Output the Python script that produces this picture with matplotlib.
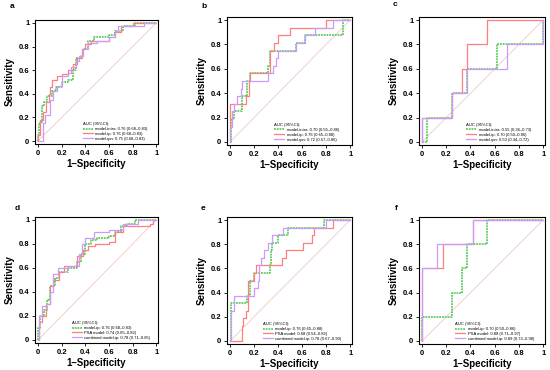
import matplotlib
matplotlib.use("Agg")
import matplotlib.pyplot as plt

plt.rcParams["font.family"] = ["Liberation Sans", "DejaVu Sans"]

# ---------------- data (ROC step vertices: fpr where rise happens, tpr after rise) ---------------
# panel a
a_intra_fpr = [0, 0.0, 0.01, 0.03, 0.05, 0.08, 0.12, 0.15, 0.2, 0.25, 0.3, 0.32, 0.36, 0.38, 0.42, 0.47, 0.6, 0.65, 0.72, 0.82, 1.0]
a_intra_tpr = [0, 0.05, 0.15, 0.3, 0.33, 0.38, 0.42, 0.46, 0.5, 0.52, 0.6, 0.7, 0.72, 0.78, 0.85, 0.88, 0.9, 0.93, 0.97, 1.0, 1.0]
a_ip_fpr = [0, 0.0, 0.02, 0.04, 0.07, 0.09, 0.1, 0.12, 0.16, 0.2, 0.25, 0.3, 0.33, 0.37, 0.4, 0.45, 0.6, 0.65, 0.7, 0.8, 1.0]
a_ip_tpr = [0, 0.05, 0.18, 0.25, 0.33, 0.4, 0.46, 0.52, 0.55, 0.57, 0.6, 0.65, 0.7, 0.78, 0.82, 0.85, 0.88, 0.92, 0.97, 1.0, 1.0]
a_ipn_fpr = [0, 0.03, 0.04, 0.06, 0.1, 0.13, 0.16, 0.2, 0.25, 0.28, 0.32, 0.35, 0.38, 0.42, 0.5, 0.6, 0.65, 0.68, 0.9, 1.0]
a_ipn_tpr = [0, 0.0, 0.15, 0.22, 0.35, 0.42, 0.47, 0.55, 0.58, 0.63, 0.68, 0.72, 0.78, 0.83, 0.85, 0.88, 0.93, 0.97, 1.0, 1.0]
# panel b
b_intra_fpr = [0, 0.01, 0.03, 0.1, 0.14, 0.17, 0.32, 0.33, 0.55, 0.62, 0.94, 1.0]
b_intra_tpr = [0, 0.1875, 0.25, 0.375, 0.5, 0.5625, 0.625, 0.75, 0.8125, 0.875, 1.0, 1.0]
b_ip_fpr = [0, 0.0, 0.13, 0.16, 0.17, 0.33, 0.37, 0.4, 0.5, 0.8, 1.0]
b_ip_tpr = [0, 0.3125, 0.375, 0.5, 0.5625, 0.75, 0.8125, 0.875, 0.9375, 1.0, 1.0]
b_ipn_fpr = [0, 0.0, 0.02, 0.03, 0.06, 0.09, 0.1, 0.32, 0.36, 0.38, 0.4, 0.55, 0.62, 0.71, 0.86, 1.0]
b_ipn_tpr = [0, 0.125, 0.25, 0.3125, 0.375, 0.4375, 0.5, 0.5625, 0.625, 0.6875, 0.75, 0.8125, 0.875, 0.9375, 1.0, 1.0]
# panel c
c_intra_fpr = [0, 0.04, 0.25, 0.37, 0.62, 1.0]
c_intra_tpr = [0, 0.2, 0.4, 0.6, 0.8, 1.0]
c_ip_fpr = [0, 0.0, 0.25, 0.33, 0.375, 0.54, 1.0]
c_ip_tpr = [0, 0.2, 0.4, 0.6, 0.8, 1.0, 1.0]
c_ipn_fpr = [0, 0.0, 0.25, 0.37, 0.7, 1.0]
c_ipn_tpr = [0, 0.2, 0.4, 0.6, 0.8, 1.0]
# panel d
d_ip_fpr = [0, 0.0, 0.02, 0.05, 0.08, 0.1, 0.14, 0.18, 0.25, 0.33, 0.36, 0.4, 0.45, 0.5, 0.6, 0.65, 0.7, 0.75, 0.82, 1.0]
d_ip_tpr = [0, 0.1, 0.2, 0.25, 0.33, 0.45, 0.52, 0.57, 0.6, 0.65, 0.72, 0.8, 0.83, 0.85, 0.87, 0.9, 0.95, 0.97, 1.0, 1.0]
d_psa_fpr = [0, 0.01, 0.03, 0.07, 0.1, 0.13, 0.18, 0.22, 0.33, 0.38, 0.42, 0.48, 0.6, 0.65, 0.72, 0.95, 0.97, 1.0]
d_psa_tpr = [0, 0.15, 0.2, 0.3, 0.45, 0.5, 0.57, 0.62, 0.7, 0.75, 0.78, 0.8, 0.82, 0.9, 0.95, 0.97, 1.0, 1.0]
d_comb_fpr = [0, 0.01, 0.03, 0.07, 0.1, 0.13, 0.17, 0.25, 0.35, 0.37, 0.4, 0.47, 0.6, 0.72, 0.85, 1.0]
d_comb_tpr = [0, 0.2, 0.28, 0.3, 0.4, 0.55, 0.6, 0.62, 0.72, 0.8, 0.85, 0.9, 0.92, 0.97, 1.0, 1.0]
# panel e
e_ip_fpr = [0, 0.01, 0.14, 0.17, 0.2, 0.33, 0.34, 0.35, 0.4, 0.48, 0.78, 1.0]
e_ip_tpr = [0, 0.3125, 0.375, 0.5, 0.5625, 0.625, 0.75, 0.8125, 0.875, 0.9375, 1.0, 1.0]
e_psa_fpr = [0, 0.1, 0.11, 0.13, 0.15, 0.2, 0.22, 0.43, 0.47, 0.61, 0.68, 0.7, 0.86, 1.0]
e_psa_tpr = [0, 0.125, 0.1875, 0.25, 0.5, 0.5625, 0.625, 0.6875, 0.75, 0.8125, 0.875, 0.9375, 1.0, 1.0]
e_comb_fpr = [0, 0.01, 0.03, 0.2, 0.23, 0.24, 0.26, 0.28, 0.32, 0.35, 0.44, 0.8, 1.0]
e_comb_tpr = [0, 0.25, 0.375, 0.4375, 0.5, 0.625, 0.6875, 0.75, 0.8125, 0.875, 0.9375, 1.0, 1.0]
# panel f
f_ip_fpr = [0, 0.0, 0.25, 0.33, 0.37, 0.54, 1.0]
f_ip_tpr = [0, 0.2, 0.4, 0.6, 0.8, 1.0, 1.0]
f_psa_fpr = [0, 0.0, 0.17, 0.42, 1.0]
f_psa_tpr = [0, 0.6, 0.8, 1.0, 1.0]
f_comb_fpr = [0, 0.0, 0.12, 0.42, 1.0]
f_comb_tpr = [0, 0.6, 0.8, 1.0, 1.0]

labels_top = ["model-intra", "model-ip", "model-ipn"]
labels_bot = ["model-ip", "PSA model", "combined model-ip"]
auc_a = ["0.76 (0.68\u20130.83)", "0.76 (0.68\u20130.83)", "0.75 (0.68\u20130.83)"]
auc_b = ["0.70 (0.55\u20130.86)", "0.76 (0.65\u20130.88)", "0.72 (0.57\u20130.86)"]
auc_c = ["0.55 (0.36\u20130.73)", "0.70 (0.50\u20130.86)", "0.53 (0.34\u20130.72)"]
auc_d = ["0.76 (0.68\u20130.83)", "0.74 (0.65\u20130.82)", "0.78 (0.71\u20130.85)"]
auc_e = ["0.76 (0.65\u20130.88)", "0.68 (0.54\u20130.82)", "0.78 (0.67\u20130.90)"]
auc_f = ["0.70 (0.50\u20130.86)", "0.88 (0.71\u20130.97)", "0.89 (0.72\u20130.98)"]
ticks = [0, 0.2, 0.4, 0.6, 0.8, 1]
tick_labels = ["0", "0.2", "0.4", "0.6", "0.8", "1"]

# ---------------- styling ----------------
col_green = "#44c244"
col_red = "#ff7f7f"
col_purple = "#cc99ff"
col_diag = "#f5c6c6"

fig = plt.figure(figsize=(5.5, 3.7), dpi=100)
W, H = 550, 370

panels = [
    ("a", (35, 20, 158, 144), [(a_intra_fpr, a_intra_tpr), (a_ip_fpr, a_ip_tpr), (a_ipn_fpr, a_ipn_tpr)], labels_top, auc_a, (10, 7), 0.38),
    ("b", (227, 17, 352, 145), [(b_intra_fpr, b_intra_tpr), (b_ip_fpr, b_ip_tpr), (b_ipn_fpr, b_ipn_tpr)], labels_top, auc_b, (201, 6), 0.37),
    ("c", (419, 17, 545, 145), [(c_intra_fpr, c_intra_tpr), (c_ip_fpr, c_ip_tpr), (c_ipn_fpr, c_ipn_tpr)], labels_top, auc_c, (393, 5), 0.37),
    ("d", (35, 217, 158, 343), [(d_ip_fpr, d_ip_tpr), (d_psa_fpr, d_psa_tpr), (d_comb_fpr, d_comb_tpr)], labels_bot, auc_d, (15, 208), 0.29),
    ("e", (227, 217, 352, 344), [(e_ip_fpr, e_ip_tpr), (e_psa_fpr, e_psa_tpr), (e_comb_fpr, e_comb_tpr)], labels_bot, auc_e, (201, 208), 0.28),
    ("f", (419, 217, 545, 344), [(f_ip_fpr, f_ip_tpr), (f_psa_fpr, f_psa_tpr), (f_comb_fpr, f_comb_tpr)], labels_bot, auc_f, (395, 208), 0.28),
]

styles = [
    dict(color=col_green, lw=1.1, ls=(0, (1.2, 0.6))),
    dict(color=col_red, lw=0.9, ls="-"),
    dict(color=col_purple, lw=0.9, ls="-"),
]

for letter, (x0, y0, x1, y1), curves, names, aucs, (lx, ly), legx in panels:
    ax = fig.add_axes([x0 / W, 1 - y1 / H, (x1 - x0) / W, (y1 - y0) / H])
    ax.plot([0, 1], [0, 1], color=col_diag, lw=0.6, zorder=1)
    order = [0, 2, 1] if letter in "abc" else [0, 1, 2]
    handles = [None, None, None]
    for i in order:
        fpr, tpr = curves[i]
        h, = ax.plot(fpr, tpr, drawstyle="steps-post", zorder=2 + i,
                     label=f"{names[i]}: {aucs[i]}", **styles[i])
        handles[i] = h
    ax.set_xlim(-0.025, 1.015)
    ax.set_ylim(-0.025, 1.025)
    ax.set_xticks(ticks)
    ax.set_xticklabels(tick_labels)
    ax.set_yticks(ticks)
    ax.set_yticklabels(tick_labels)
    ax.tick_params(direction="out", length=2.5, width=0.6, labelsize=5.5, pad=1.5)
    for t in ax.get_xticklabels() + ax.get_yticklabels():
        t.set_fontweight("bold")
    for s in ax.spines.values():
        s.set_linewidth(0.8)
    ax.set_xlabel("1\u2013Specificity", fontsize=7, fontweight="bold", labelpad=2)
    ax.set_ylabel("Sensitivity", fontsize=7, fontweight="bold", labelpad=3)
    ax.legend(handles=handles, loc="lower left", bbox_to_anchor=(legx, 0.02),
              frameon=False, fontsize=3.0, title="AUC (95%CI):", title_fontsize=3.0,
              alignment="left", handlelength=2.4, handletextpad=0.6,
              labelspacing=0.2, borderpad=0.2, borderaxespad=0)
    fig.text(lx / W, 1 - ly / H, letter, fontsize=6, fontweight="bold", ha="left", va="center")

fig.savefig("out.png", dpi=100)
